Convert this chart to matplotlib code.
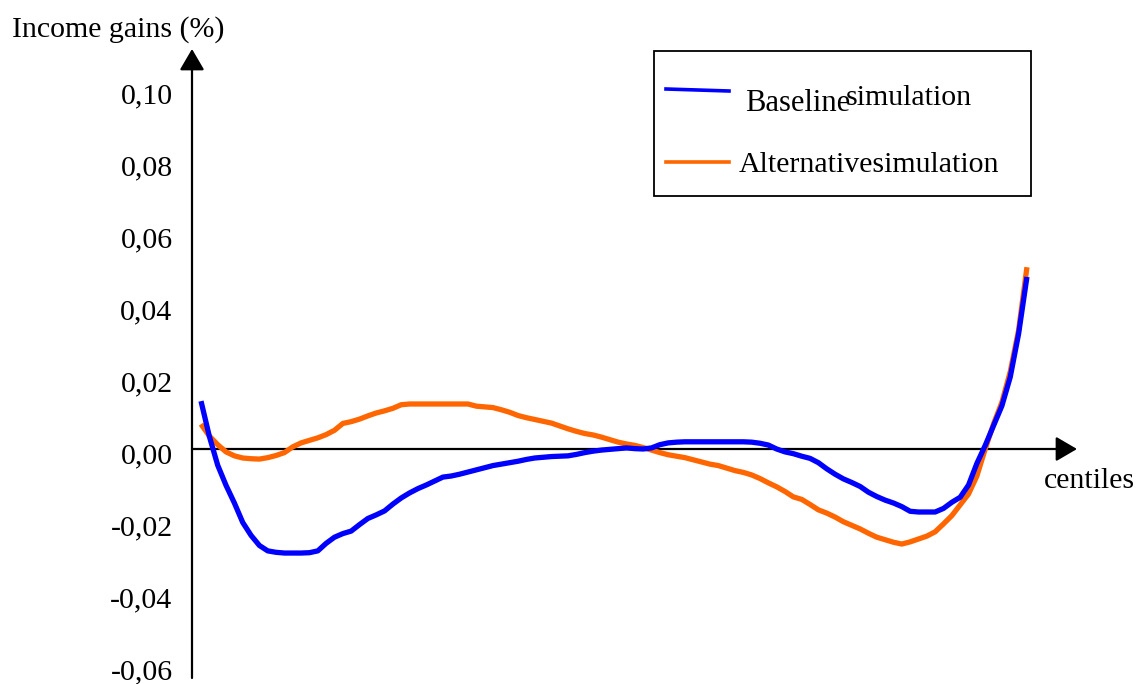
import matplotlib
matplotlib.use("Agg")
import matplotlib.pyplot as plt
import matplotlib.transforms as mtransforms
from matplotlib.patches import Rectangle
from matplotlib.lines import Line2D

# data (income gains by centile)
centiles = list(range(1, 101))
baseline = [0.0133, 0.0035, -0.0045, -0.0101, -0.0150, -0.0204, -0.0240, -0.0268, -0.0283, -0.0287,
            -0.0289, -0.0289, -0.0289, -0.0288, -0.0283, -0.0262, -0.0245, -0.0235, -0.0228, -0.0210,
            -0.0193, -0.0183, -0.0172, -0.0153, -0.0136, -0.0122, -0.0110, -0.0100, -0.0089, -0.0078,
            -0.0075, -0.0070, -0.0064, -0.0058, -0.0052, -0.0046, -0.0042, -0.0038, -0.0034, -0.0029,
            -0.0025, -0.0023, -0.0021, -0.0020, -0.0019, -0.0015, -0.0010, -0.0006, -0.0003, -0.0001,
            0.0001, 0.0003, 0.0001, 0.0000, 0.0003, 0.0012, 0.0017, 0.0019, 0.0020, 0.0020,
            0.0020, 0.0020, 0.0020, 0.0020, 0.0020, 0.0020, 0.0019, 0.0016, 0.0011, 0.0000,
            -0.0008, -0.0013, -0.0020, -0.0026, -0.0038, -0.0055, -0.0070, -0.0083, -0.0093, -0.0104,
            -0.0120, -0.0132, -0.0142, -0.0150, -0.0160, -0.0173, -0.0175, -0.0175, -0.0175, -0.0165,
            -0.0148, -0.0134, -0.0100, -0.0040, 0.0010, 0.0065, 0.0120, 0.0200, 0.0320, 0.0478]
alternative = [0.0069, 0.0036, 0.0012, -0.0008, -0.0019, -0.0025, -0.0027, -0.0028, -0.0024, -0.0018,
               -0.0010, 0.0006, 0.0017, 0.0024, 0.0031, 0.0040, 0.0052, 0.0071, 0.0076, 0.0083,
               0.0092, 0.0100, 0.0106, 0.0113, 0.0123, 0.0125, 0.0125, 0.0125, 0.0125, 0.0125,
               0.0125, 0.0125, 0.0125, 0.0119, 0.0117, 0.0115, 0.0109, 0.0102, 0.0093, 0.0087,
               0.0082, 0.0077, 0.0072, 0.0064, 0.0056, 0.0049, 0.0043, 0.0039, 0.0033, 0.0026,
               0.0019, 0.0014, 0.0010, 0.0004, -0.0003, -0.0010, -0.0016, -0.0020, -0.0024, -0.0030,
               -0.0036, -0.0042, -0.0046, -0.0053, -0.0060, -0.0065, -0.0072, -0.0082, -0.0094, -0.0105,
               -0.0118, -0.0133, -0.0140, -0.0154, -0.0169, -0.0178, -0.0189, -0.0202, -0.0212, -0.0222,
               -0.0234, -0.0245, -0.0252, -0.0259, -0.0264, -0.0258, -0.0250, -0.0242, -0.0230, -0.0208,
               -0.0185, -0.0155, -0.0125, -0.0075, 0.0000, 0.0070, 0.0130, 0.0215, 0.0330, 0.0505]
yticks = [-0.06, -0.04, -0.02, 0.00, 0.02, 0.04, 0.06, 0.08, 0.10]
ytick_labels = ["-0,06", "-0,04", "-0,02", "0,00", "0,02", "0,04", "0,06", "0,08", "0,10"]

BLUE = "#0000FF"
ORANGE = "#FF6600"
W, H = 1136, 684

plt.rcParams["font.family"] = ["Liberation Serif", "DejaVu Serif"]
FS = 21.5

fig = plt.figure(figsize=(W / 100, H / 100), dpi=100)
ax = fig.add_axes([192 / W, 6 / H, (1077 - 192) / W, (678 - 49) / H])
ax.set_xlim(-0.08, 106.0)
ax.set_ylim(-0.06361, 0.11111)

ax.plot(centiles, alternative, color=ORANGE, lw=3.8, solid_capstyle="butt", zorder=3)
ax.plot(centiles, baseline, color=BLUE, lw=3.8, solid_capstyle="butt", zorder=4)

for s in ax.spines.values():
    s.set_visible(False)
ax.set_xticks([])
ax.set_yticks(yticks)
ax.set_yticklabels(ytick_labels, fontsize=FS)
ax.tick_params(axis="y", length=0, pad=14)
offset = mtransforms.ScaledTranslation(0, -0.045, fig.dpi_scale_trans)
for lab in ax.get_yticklabels():
    lab.set_transform(lab.get_transform() + offset)

# axes with arrow heads
arrow = dict(arrowstyle="-|>,head_length=0.65,head_width=0.38", color="black",
             lw=1.6, shrinkA=0, shrinkB=0, mutation_scale=20)
ax.annotate("", xy=(0, 1), xytext=(0, 0), xycoords="axes fraction",
            textcoords="axes fraction", arrowprops=arrow, zorder=2)
ax.annotate("", xy=(1, 0), xytext=(0, 0), xycoords=("axes fraction", "data"),
            textcoords=("axes fraction", "data"), arrowprops=arrow, zorder=2)

fig.text(12 / W, 1 - 37 / H, "Income gains (%)", fontsize=FS, va="baseline", ha="left")
fig.text(1044 / W, 1 - 488 / H, "centiles", fontsize=FS, va="baseline", ha="left")

# hand-made legend box
fig.add_artist(Rectangle((654 / W, 1 - 196 / H), (1031 - 654) / W, (196 - 51) / H,
                         transform=fig.transFigure, fill=False, ec="black", lw=1.3))
fig.add_artist(Line2D([666 / W, 729 / W], [1 - 89 / H, 1 - 91 / H], transform=fig.transFigure,
                      color=BLUE, lw=2.6))
fig.add_artist(Line2D([666 / W, 729 / W], [1 - 162 / H, 1 - 162 / H], transform=fig.transFigure,
                      color=ORANGE, lw=2.6))
fig.text(745 / W, 1 - 111 / H, "Baseline", fontsize=22, va="baseline", ha="left")
fig.text(846 / W, 1 - 105 / H, "simulation", fontsize=FS, va="baseline", ha="left")
fig.text(739 / W, 1 - 172 / H, "Alternativesimulation", fontsize=FS, va="baseline", ha="left")

fig.savefig("out.png", dpi=100)
